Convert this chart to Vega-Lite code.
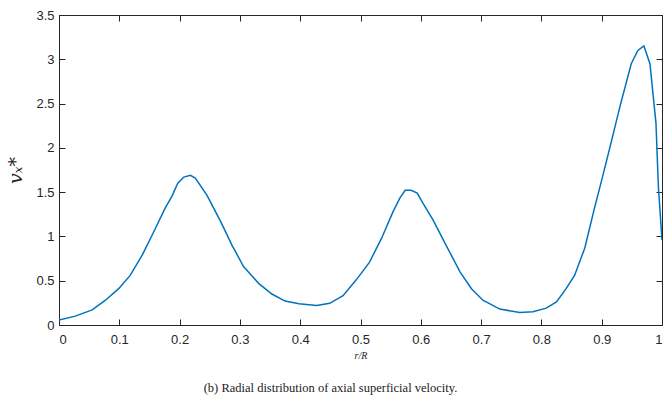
{
  "$schema": "https://vega.github.io/schema/vega-lite/v6.json",
  "autosize": "none",
  "width": 603,
  "height": 310,
  "padding": {"left": 59, "top": 15, "right": 2, "bottom": 74},
  "background": "white",
  "config": {
    "view": {"stroke": "#262626", "strokeWidth": 1},
    "axis": {"grid": false, "domain": false, "ticks": true, "tickSize": -6, "tickWidth": 1, "tickColor": "#262626", "labelColor": "#262626", "labelFont": "Liberation Sans", "labelFontSize": 13}
  },
  "title": {
    "text": "(b) Radial distribution of axial superficial velocity.",
    "orient": "bottom",
    "anchor": "middle",
    "font": "Liberation Serif",
    "fontSize": 12.5,
    "fontWeight": "normal",
    "color": "#222",
    "offset": 22,
    "dx": -30
  },
  "data": {
    "values": [
      {"x": 0.0, "v": 0.056},
      {"x": 0.027, "v": 0.10},
      {"x": 0.055, "v": 0.17},
      {"x": 0.077, "v": 0.28},
      {"x": 0.099, "v": 0.41},
      {"x": 0.118, "v": 0.56},
      {"x": 0.138, "v": 0.79},
      {"x": 0.157, "v": 1.05},
      {"x": 0.176, "v": 1.32},
      {"x": 0.187, "v": 1.45},
      {"x": 0.197, "v": 1.60},
      {"x": 0.207, "v": 1.67},
      {"x": 0.218, "v": 1.69},
      {"x": 0.226, "v": 1.66},
      {"x": 0.245, "v": 1.47},
      {"x": 0.268, "v": 1.17},
      {"x": 0.287, "v": 0.90},
      {"x": 0.306, "v": 0.66},
      {"x": 0.331, "v": 0.47},
      {"x": 0.353, "v": 0.35},
      {"x": 0.375, "v": 0.27},
      {"x": 0.398, "v": 0.24},
      {"x": 0.427, "v": 0.22},
      {"x": 0.449, "v": 0.245},
      {"x": 0.471, "v": 0.33},
      {"x": 0.493, "v": 0.51},
      {"x": 0.515, "v": 0.71},
      {"x": 0.535, "v": 0.98},
      {"x": 0.554, "v": 1.28},
      {"x": 0.565, "v": 1.43},
      {"x": 0.574, "v": 1.52},
      {"x": 0.584, "v": 1.52},
      {"x": 0.594, "v": 1.49},
      {"x": 0.604, "v": 1.37},
      {"x": 0.620, "v": 1.19},
      {"x": 0.642, "v": 0.90},
      {"x": 0.665, "v": 0.60},
      {"x": 0.684, "v": 0.41},
      {"x": 0.703, "v": 0.28},
      {"x": 0.731, "v": 0.18},
      {"x": 0.764, "v": 0.14},
      {"x": 0.786, "v": 0.15},
      {"x": 0.808, "v": 0.19},
      {"x": 0.825, "v": 0.26},
      {"x": 0.841, "v": 0.41},
      {"x": 0.855, "v": 0.56},
      {"x": 0.872, "v": 0.87},
      {"x": 0.888, "v": 1.32},
      {"x": 0.902, "v": 1.69},
      {"x": 0.916, "v": 2.07},
      {"x": 0.930, "v": 2.46},
      {"x": 0.949, "v": 2.95},
      {"x": 0.960, "v": 3.10},
      {"x": 0.970, "v": 3.15},
      {"x": 0.980, "v": 2.95},
      {"x": 0.990, "v": 2.28},
      {"x": 0.994, "v": 1.56},
      {"x": 1.0, "v": 0.96}
    ]
  },
  "resolve": {"axis": {"x": "independent", "y": "independent"}},
  "layer": [
    {
      "mark": {"type": "line", "color": "#0072BD", "strokeWidth": 1.5, "clip": true},
      "encoding": {
        "x": {"field": "x", "type": "quantitative", "scale": {"domain": [0, 1], "nice": false},
          "axis": {"orient": "bottom", "values": [0,0.1,0.2,0.3,0.4,0.5,0.6,0.7,0.8,0.9,1], "labelPadding": 14, "labelExpr": "datum.value == 0 || datum.value == 1 ? format(datum.value, 'd') : format(datum.value, '.1f')",
            "title": "r/R", "titleFont": "Liberation Serif", "titleFontStyle": "italic", "titleFontWeight": "normal", "titleFontSize": 10, "titlePadding": 4, "titleColor": "#222"}},
        "y": {"field": "v", "type": "quantitative", "scale": {"domain": [0, 3.5], "nice": false},
          "axis": {"orient": "left", "values": [0,0.5,1,1.5,2,2.5,3,3.5], "labelPadding": 11, "labelExpr": "datum.value % 1 == 0 ? format(datum.value, 'd') : format(datum.value, '.1f')",
            "title": "vₓ*", "titleFont": "DejaVu Serif", "titleFontStyle": "italic", "titleFontWeight": "normal", "titleFontSize": 19, "titlePadding": 10, "titleColor": "#222"}}
      }
    },
    {
      "mark": {"type": "line", "opacity": 0},
      "encoding": {
        "x": {"field": "x", "type": "quantitative", "scale": {"domain": [0, 1], "nice": false},
          "axis": {"orient": "top", "values": [0,0.1,0.2,0.3,0.4,0.5,0.6,0.7,0.8,0.9,1], "labels": false, "title": null}},
        "y": {"field": "v", "type": "quantitative", "scale": {"domain": [0, 3.5], "nice": false},
          "axis": {"orient": "right", "values": [0,0.5,1,1.5,2,2.5,3,3.5], "labels": false, "title": null}}
      }
    }
  ]
}
